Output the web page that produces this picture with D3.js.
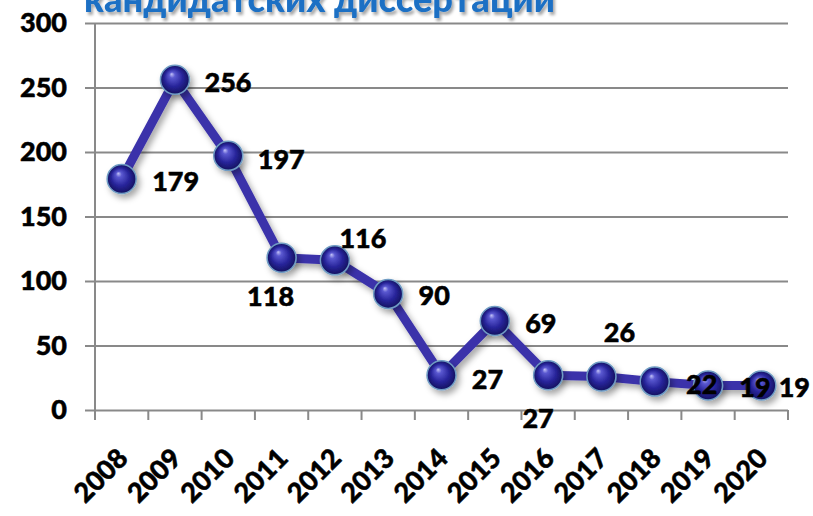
<!DOCTYPE html>
<html>
<head>
<meta charset="utf-8">
<script src="https://cdn.jsdelivr.net/npm/d3@7"></script>
<style>
  body { margin: 0; background: #fff; }
  svg { display: block; }
  text { font-family: Lato, "Open Sans", sans-serif; font-weight: 900; }
</style>
</head>
<body>
<svg id="chart" width="813" height="516"></svg>
<script>
/* dissertations per year, line with sphere markers */
var years = ["2008","2009","2010","2011","2012","2013","2014","2015","2016","2017","2018","2019","2020"];
var counts = [179, 256, 197, 118, 116, 90, 27, 69, 27, 26, 22, 19, 19];
var yTicks = [0, 50, 100, 150, 200, 250, 300];
var title = "кандидатских диссертаций";
// hand placed label nudges (px) relative to the point, like in the original
var labelNudge = [[54,2],[53,3],[53,3],[-11,38],[28,-22],[46,1],[46,4],[46,2],[-10,43],[18,-44],[47,3],[47,2],[33,2]];

var svg = d3.select("#chart");
var m = {left: 95, right: 788, top: 23, bottom: 410};

var x = d3.scaleBand().domain(years).range([m.left, m.right]).padding(0);
var y = d3.scaleLinear().domain([0, 300]).range([m.bottom, m.top]);

var defs = svg.append("defs");
var ball = defs.append("radialGradient").attr("id","ball")
    .attr("cx","50%").attr("cy","50%").attr("r","50%")
    .attr("fx","38%").attr("fy","30%");
ball.append("stop").attr("offset","0%").attr("stop-color","#c4c4f8");
ball.append("stop").attr("offset","20%").attr("stop-color","#5a58d0");
ball.append("stop").attr("offset","62%").attr("stop-color","#27249a");
ball.append("stop").attr("offset","100%").attr("stop-color","#14125e");

var sh = defs.append("filter").attr("id","shadow")
    .attr("x","-30%").attr("y","-30%").attr("width","170%").attr("height","170%");
sh.append("feDropShadow").attr("dx",3).attr("dy",4).attr("stdDeviation",3)
    .attr("flood-color","#000").attr("flood-opacity",0.35);

var tsh = defs.append("filter").attr("id","tshadow");
tsh.append("feDropShadow").attr("dx",2).attr("dy",3).attr("stdDeviation",1.5)
    .attr("flood-color","#000").attr("flood-opacity",0.35);

// title, mostly cut off by the top edge
svg.append("text")
    .attr("x", 84).attr("y", 12)
    .attr("font-family", "'Open Sans', sans-serif")
    .attr("font-weight", 800)
    .attr("font-size", 36)
    .attr("fill", "#1c70c4")
    .attr("filter", "url(#tshadow)")
    .attr("textLength", 471)
    .attr("lengthAdjust", "spacingAndGlyphs")
    .text(title);

// grid + y axis
var yAxis = d3.axisLeft(y).tickValues(yTicks).tickSize(-(m.right - m.left)).tickPadding(20);
var gy = svg.append("g").attr("transform","translate(" + m.left + ",0)").call(yAxis);
gy.select(".domain").remove();
gy.selectAll(".tick line").attr("stroke","#898989").attr("stroke-width",2).attr("x1",-10);
gy.selectAll(".tick text").attr("font-size",27).attr("fill","#000")
    .attr("stroke","#000").attr("stroke-width",0.5)
    .attr("font-family","Lato, sans-serif").attr("x",-28);
svg.append("line").attr("x1",m.left).attr("x2",m.left).attr("y1",m.top).attr("y2",m.bottom)
    .attr("stroke","#898989").attr("stroke-width",2);

// x axis ticks at band edges
var edges = years.map(function(d){ return x(d); }).concat([m.right]);
svg.append("g").selectAll("line").data(edges).join("line")
    .attr("x1",function(d){ return d; }).attr("x2",function(d){ return d; })
    .attr("y1",m.bottom).attr("y2",m.bottom + 10)
    .attr("stroke","#898989").attr("stroke-width",2);

svg.append("g").selectAll("text").data(years).join("text")
    .attr("text-anchor","end")
    .attr("font-size",27)
    .attr("stroke","#000").attr("stroke-width",0.5)
    .attr("transform",function(d){
        return "translate(" + (x(d) + x.bandwidth()/2 + 8) + "," + (m.bottom + 50) + ") rotate(-45)";
    })
    .text(function(d){ return d; });

// the line
var pts = years.map(function(d,i){ return [x(d) + x.bandwidth()/2, y(counts[i])]; });
svg.append("path")
    .attr("d", d3.line()(pts))
    .attr("fill","none")
    .attr("stroke","#3b33aa")
    .attr("stroke-width",9)
    .attr("stroke-linejoin","round")
    .attr("filter","url(#shadow)");

// sphere markers
svg.append("g").selectAll("circle").data(pts).join("circle")
    .attr("cx",function(d){ return d[0]; })
    .attr("cy",function(d){ return d[1]; })
    .attr("r",14.5)
    .attr("fill","url(#ball)")
    .attr("stroke","#6f9cc4")
    .attr("stroke-width",1.5)
    .attr("filter","url(#shadow)");

// value labels
svg.append("g").selectAll("text").data(counts).join("text")
    .attr("x",function(d,i){ return pts[i][0] + labelNudge[i][0]; })
    .attr("y",function(d,i){ return pts[i][1] + labelNudge[i][1]; })
    .attr("dy","0.36em")
    .attr("text-anchor","middle")
    .attr("font-size",27)
    .attr("fill","#000")
    .attr("stroke","#000").attr("stroke-width",0.5)
    .text(function(d){ return d; });
</script>
</body>
</html>
